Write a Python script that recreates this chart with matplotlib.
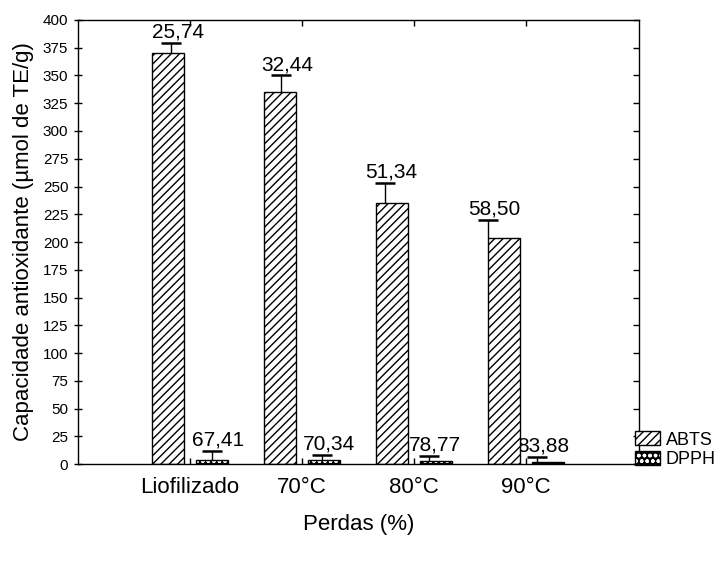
import matplotlib
matplotlib.use("Agg")
import matplotlib.pyplot as plt
from matplotlib.patches import Patch
import numpy as np

plt.rcParams['font.family'] = ['Liberation Sans', 'DejaVu Sans']
plt.rcParams['hatch.linewidth'] = 1.0

categories = ['Liofilizado', '70°C', '80°C', '90°C']
abts = [370, 335, 235, 204]
abts_err = [9, 15, 18, 16]
abts_lbl = ['25,74', '32,44', '51,34', '58,50']
dpph = [4, 4, 3, 2]
dpph_err = [8, 4.5, 4.5, 4.5]
dpph_lbl = ['67,41', '70,34', '78,77', '83,88']
yticks = list(range(0, 401, 25))

# styling: bar offsets and error-bar horizontal drift (in category units)
w = 0.286
off = 0.196
abts_err_shift = [0.03, 0.01, -0.06, -0.145]
dpph_err_shift = [0.0, -0.013, -0.065, -0.10]

fig = plt.figure(figsize=(7.24, 5.63), dpi=100)
ax = fig.add_axes([0.1077, 0.1758, 0.7749, 0.7887])

x = np.arange(len(categories))

ax.bar(x - off, abts, w, facecolor='white', edgecolor='black', hatch='////', linewidth=1.0, zorder=2)
ax.bar(x + off, dpph, w, facecolor='black', edgecolor='white', hatch='ooo', linewidth=0, zorder=2)
ax.bar(x + off, dpph, w, facecolor='none', edgecolor='black', linewidth=1.0, zorder=3)

for xs, vals, errs, lbls in [(x - off + np.array(abts_err_shift), abts, abts_err, abts_lbl),
                             (x + off + np.array(dpph_err_shift), dpph, dpph_err, dpph_lbl)]:
    tops = np.array(vals) + np.array(errs)
    ax.vlines(xs, vals, tops, colors='black', linewidth=1.0, zorder=4)
    ax.plot(xs, tops, linestyle='none', marker='_', markersize=14, markeredgewidth=1.8,
            color='black', zorder=4)
    for xi, t, s in zip(xs, tops, lbls):
        ax.annotate(s, (xi, t), xytext=(4.5, 1), textcoords='offset points',
                    ha='center', va='bottom', fontsize=15, zorder=1)

ax.set_xlim(-1, 4.01)
ax.set_ylim(0, 400)
ax.set_yticks(yticks)
ax.set_xticks(x)
ax.set_xticklabels(categories, fontsize=16)
ax.tick_params(axis='y', which='both', left=True, right=True, direction='inout', length=6,
               labelsize=11, width=1, pad=4)
ax.tick_params(axis='x', which='both', top=True, bottom=True, direction='in', length=4, pad=9, width=1)
for t in ax.yaxis.get_major_ticks():
    t.tick2line.set_marker(matplotlib.markers.TICKLEFT)
    t.tick2line.set_markersize(4)

ax.set_ylabel('Capacidade antioxidante (µmol de TE/g)', fontsize=16, labelpad=6)
ax.set_xlabel('Perdas (%)', fontsize=16, labelpad=12)
for s in ax.spines.values():
    s.set_linewidth(1.0)

h_abts = Patch(facecolor='white', edgecolor='black', hatch='////', linewidth=1.0)
h_d1 = Patch(facecolor='black', edgecolor='white', hatch='ooo', linewidth=0)
h_d2 = Patch(facecolor='none', edgecolor='black', linewidth=1.0)
fig.legend([h_abts, (h_d1, h_d2)], ['ABTS', 'DPPH'], loc='lower left',
           bbox_to_anchor=(0.877, 0.168), frameon=False, fontsize=13,
           handlelength=1.4, handleheight=0.8, handletextpad=0.3, labelspacing=0.15,
           borderpad=0, borderaxespad=0)

fig.savefig('out.png', dpi=100)
